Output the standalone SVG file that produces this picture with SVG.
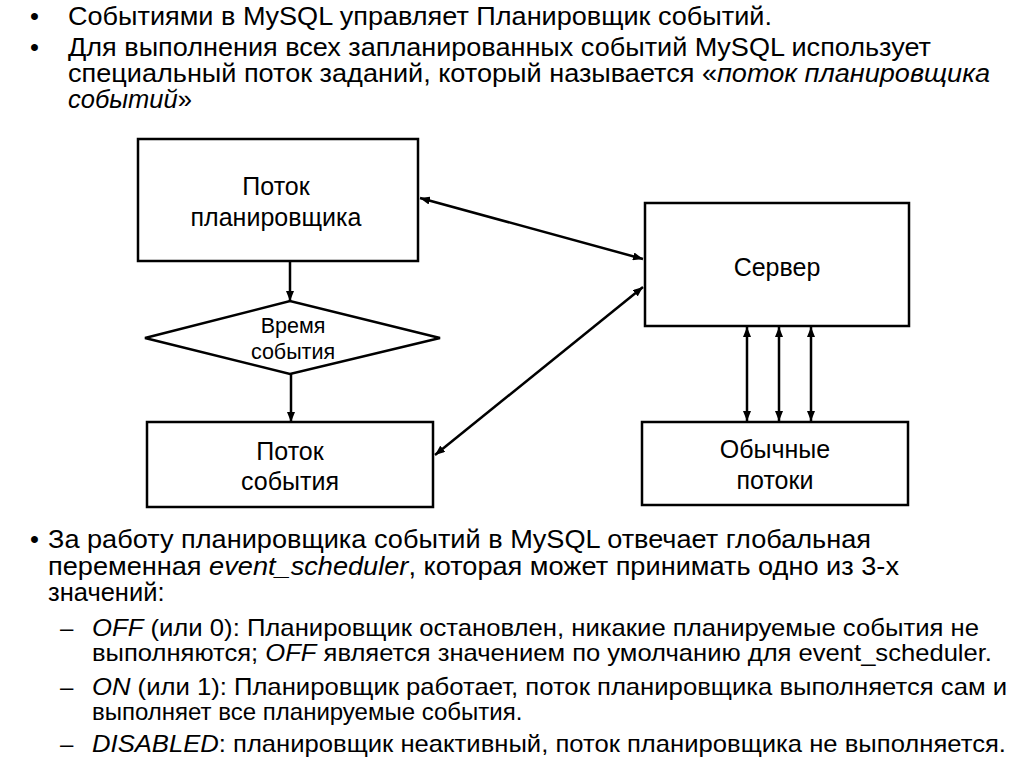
<svg xmlns="http://www.w3.org/2000/svg" width="1024" height="767" viewBox="0 0 1024 767">
<style>
.t{font-family:"Liberation Sans",Arial,sans-serif;font-size:25.5px;fill:#000}
.s{font-family:"Liberation Sans",Arial,sans-serif;font-size:24px;fill:#000}
.i{font-style:italic}
.n{font-family:"Liberation Sans",Arial,sans-serif;font-size:25px;fill:#000;text-anchor:middle}
.d{font-family:"Liberation Sans",Arial,sans-serif;font-size:21.5px;fill:#000;text-anchor:middle}
.box{fill:#fff;stroke:#000;stroke-width:2.5}
.c{fill:none;stroke:#000;stroke-width:2.5}
</style>
<defs>
<marker id="ah" markerUnits="userSpaceOnUse" markerWidth="10" markerHeight="8" refX="10" refY="4" orient="auto-start-reverse">
<path d="M0,0 L10,4 L0,8 z" fill="#000"/>
</marker>
</defs>
<rect width="1024" height="767" fill="#fff"/>
<g id="top-text">
<text class="t" x="30" y="25">•</text>
<text class="t" x="68" y="25" textLength="704" lengthAdjust="spacingAndGlyphs">Событиями в MySQL управляет Планировщик событий.</text>
<text class="t" x="30" y="56">•</text>
<text class="t" x="68" y="56" textLength="863" lengthAdjust="spacingAndGlyphs">Для выполнения всех запланированных событий MySQL использует</text>
<text class="t" x="68" y="82" textLength="922" lengthAdjust="spacingAndGlyphs">специальный поток заданий, который называется «<tspan class="i">поток планировщика</tspan></text>
<text class="t" x="68" y="108"><tspan class="i">событий</tspan>»</text>
</g>
<g id="node-scheduler">
<rect class="box" x="138" y="139" width="280" height="122"/>
<text class="n" x="276" y="195">Поток</text>
<text class="n" x="276" y="226">планировщика</text>
</g>
<g id="node-time">
<polygon class="box" points="145,338 290,301 440,338 290,374"/>
<text class="d" x="293" y="333">Время</text>
<text class="d" x="293" y="359">события</text>
</g>
<g id="node-event">
<rect class="box" x="147" y="422" width="286" height="85"/>
<text class="n" x="290" y="460">Поток</text>
<text class="n" x="290" y="490">события</text>
</g>
<g id="node-server">
<rect class="box" x="645" y="203" width="264" height="123"/>
<text class="n" x="777" y="276">Сервер</text>
</g>
<g id="node-threads">
<rect class="box" x="642" y="422" width="266" height="83"/>
<text class="n" x="775" y="458">Обычные</text>
<text class="n" x="775" y="489">потоки</text>
</g>
<g id="connectors">
<line class="c" x1="290" y1="261" x2="290" y2="301" marker-end="url(#ah)"/>
<line class="c" x1="291" y1="374" x2="291" y2="422" marker-end="url(#ah)"/>
<line class="c" x1="420" y1="198" x2="643" y2="259" marker-start="url(#ah)" marker-end="url(#ah)"/>
<line class="c" x1="435" y1="455" x2="643" y2="287" marker-start="url(#ah)" marker-end="url(#ah)"/>
<line class="c" x1="747" y1="327" x2="747" y2="421" marker-start="url(#ah)" marker-end="url(#ah)"/>
<line class="c" x1="779" y1="327" x2="779" y2="421" marker-start="url(#ah)" marker-end="url(#ah)"/>
<line class="c" x1="811" y1="327" x2="811" y2="421" marker-start="url(#ah)" marker-end="url(#ah)"/>
</g>
<g id="bottom-text">
<text class="t" x="30" y="548">•</text>
<text class="t" x="48" y="548" textLength="823" lengthAdjust="spacingAndGlyphs">За работу планировщика событий в MySQL отвечает глобальная</text>
<text class="t" x="48" y="575" textLength="851" lengthAdjust="spacingAndGlyphs">переменная <tspan class="i">event_scheduler</tspan>, которая может принимать одно из 3-х</text>
<text class="t" x="48" y="601">значений:</text>
<text class="s" x="60" y="636">–</text>
<text class="s" x="92" y="636" textLength="887" lengthAdjust="spacingAndGlyphs"><tspan class="i">OFF</tspan> (или 0): Планировщик остановлен, никакие планируемые события не</text>
<text class="s" x="92" y="661" textLength="900" lengthAdjust="spacingAndGlyphs">выполняются; <tspan class="i">OFF</tspan> является значением по умолчанию для event_scheduler.</text>
<text class="s" x="60" y="695">–</text>
<text class="s" x="92" y="695" textLength="915" lengthAdjust="spacingAndGlyphs"><tspan class="i">ON</tspan> (или 1): Планировщик работает, поток планировщика выполняется сам и</text>
<text class="s" x="92" y="720">выполняет все планируемые события.</text>
<text class="s" x="60" y="752">–</text>
<text class="s" x="92" y="752" textLength="914" lengthAdjust="spacingAndGlyphs"><tspan class="i">DISABLED</tspan>: планировщик неактивный, поток планировщика не выполняется.</text>
</g>
</svg>
